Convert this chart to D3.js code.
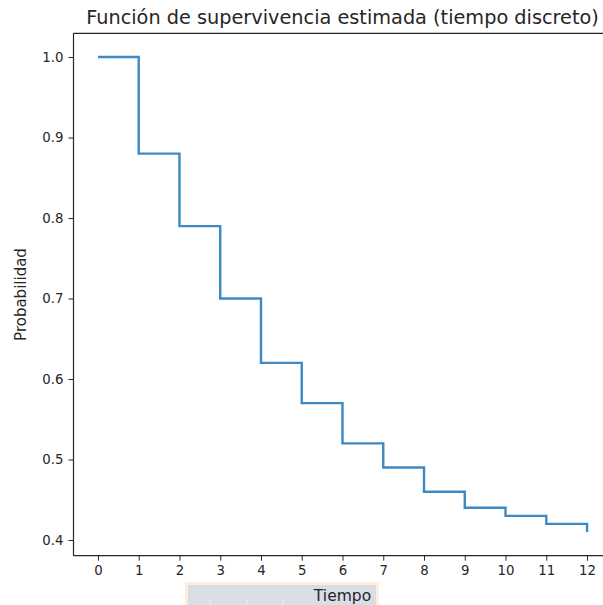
<!DOCTYPE html>
<html><head><meta charset="utf-8">
<script src="https://cdn.jsdelivr.net/npm/d3@7"></script>
<style>
html,body{margin:0;padding:0;background:#fff;}
svg{display:block;font-family:"DejaVu Sans",sans-serif;}
</style></head>
<body>
<script>
const tiempos = [0,1,2,3,4,5,6,7,8,9,10,11,12];
const supervivencia = [1.0,0.88,0.79,0.70,0.62,0.57,0.52,0.49,0.46,0.44,0.43,0.42,0.41];
const xTicks = [0,1,2,3,4,5,6,7,8,9,10,11,12];
const yTicks = [0.4,0.5,0.6,0.7,0.8,0.9,1.0];
const titulo = "Función de supervivencia estimada (tiempo discreto)";
const xLabel = "Tiempo";
const yLabel = "Probabilidad";

(function () {
const W = 603, H = 605;
const mLeft = 73.5, mRight = 611.5, mTop = 33.3, mBottom = 555.7;

const svg = d3.select("body").append("svg").attr("width", W).attr("height", H);

const x = d3.scaleLinear().domain([-0.6, 12.6]).range([mLeft, mRight]);
const y = d3.scaleLinear().domain([0.3805, 1.0295]).range([mBottom, mTop]);

// overlay box behind x label
const bx = 185, by = 582;
svg.append("rect").attr("x", bx).attr("y", by).attr("width", 194).attr("height", H - by + 5)
  .attr("fill", "#fdeedd");
svg.append("rect").attr("x", bx + 3).attr("y", by + 3).attr("width", 188).attr("height", H - by)
  .attr("fill", "#d9dee6");
[210, 247, 283].forEach(px => {
  svg.append("line").attr("x1", px).attr("x2", px).attr("y1", 600).attr("y2", 605)
    .attr("stroke", "#eef0f4").attr("stroke-width", 1);
});

// step line (post)
const line = d3.line().x(d => x(d[0])).y(d => y(d[1])).curve(d3.curveStepAfter);
svg.append("path")
  .datum(tiempos.map((t, i) => [t, supervivencia[i]]))
  .attr("d", line)
  .attr("fill", "none").attr("stroke", "#3d8ac3").attr("stroke-width", 2.4);

// axes
const xAxis = svg.append("g").attr("transform", `translate(0,${mBottom})`)
  .call(d3.axisBottom(x).tickValues(xTicks).tickFormat(d3.format("d")).tickSize(5).tickPadding(5));
const yAxis = svg.append("g").attr("transform", `translate(${mLeft},0)`)
  .call(d3.axisLeft(y).tickValues(yTicks).tickFormat(d3.format(".1f")).tickSize(5).tickPadding(5));
[xAxis, yAxis].forEach(g => {
  g.selectAll("text").attr("font-size", 13.3).attr("fill", "#262626").attr("font-family", "DejaVu Sans");
  g.selectAll("line").attr("stroke", "#262626").attr("stroke-width", 1);
  g.select(".domain").remove();
});
// spines
const sp = (x1, y1, x2, y2) => svg.append("line").attr("x1", x1).attr("y1", y1).attr("x2", x2).attr("y2", y2)
  .attr("stroke", "#262626").attr("stroke-width", 1.2);
sp(mLeft, mTop, mLeft, mBottom);
sp(mLeft, mBottom, mRight, mBottom);
sp(mLeft, mTop, mRight, mTop);
sp(mRight, mTop, mRight, mBottom);

// title
svg.append("text").attr("x", (mLeft + mRight) / 2).attr("y", 24).attr("text-anchor", "middle")
  .attr("font-size", 19.3).attr("fill", "#262626").text(titulo);
// x label
svg.append("text").attr("x", (mLeft + mRight) / 2).attr("y", 601).attr("text-anchor", "middle")
  .attr("font-size", 15.5).attr("fill", "#262626").text(xLabel);
// y label
svg.append("text").attr("transform", `translate(26,${(mTop + mBottom) / 2}) rotate(-90)`)
  .attr("text-anchor", "middle").attr("font-size", 15).attr("fill", "#262626").text(yLabel);
})();
</script>
</body></html>
